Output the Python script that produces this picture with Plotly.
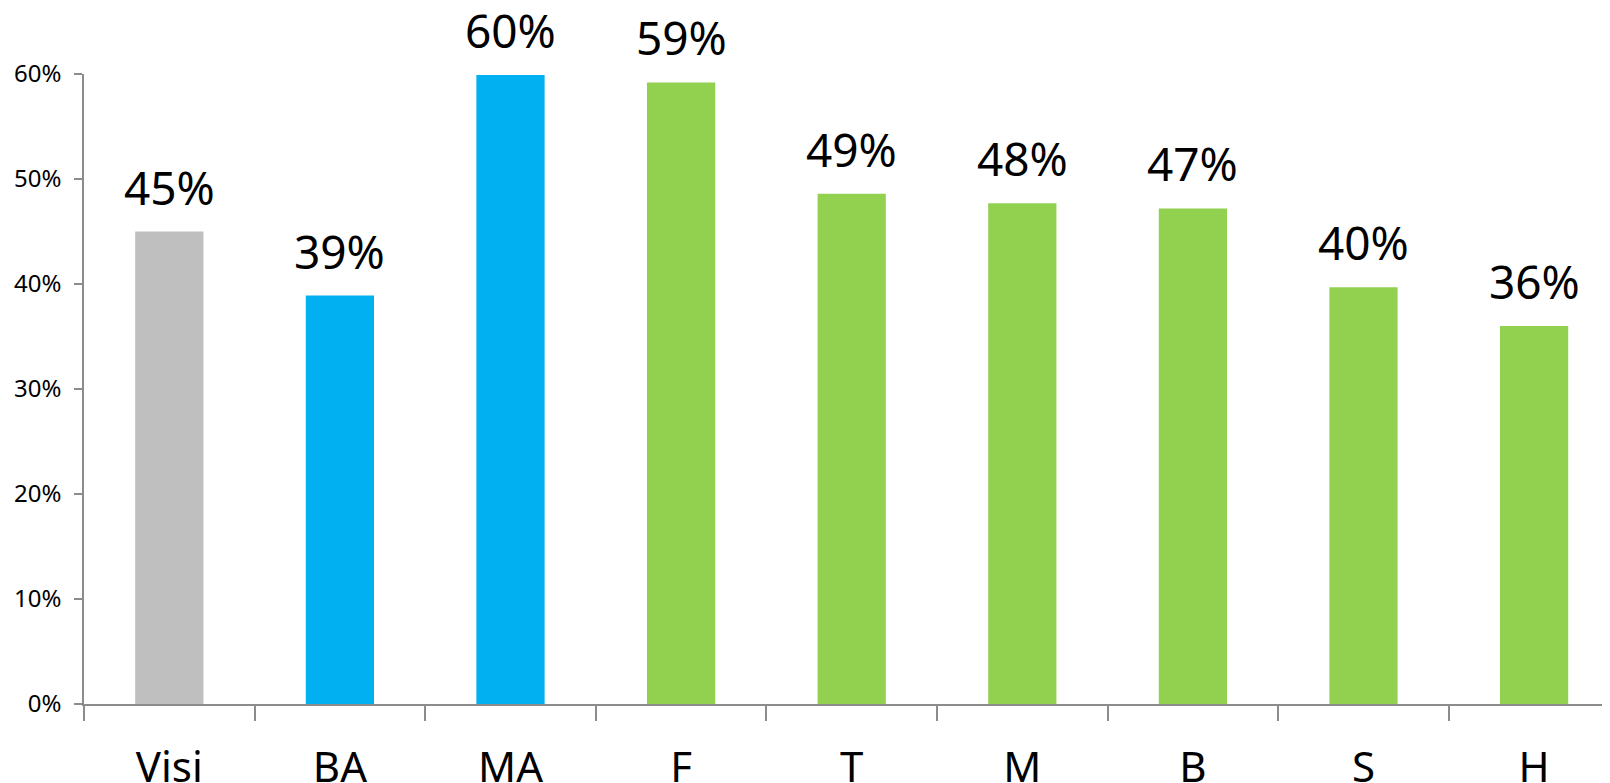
import plotly.graph_objects as go

categories = ["Visi", "BA", "MA", "F", "T", "M", "B", "S", "H"]
values = [0.450, 0.389, 0.599, 0.592, 0.486, 0.477, 0.472, 0.397, 0.360]
bar_colors = ["#BFBFBF", "#00B0F0", "#00B0F0", "#92D050", "#92D050",
              "#92D050", "#92D050", "#92D050", "#92D050"]
y_tickvals = [0, 0.1, 0.2, 0.3, 0.4, 0.5, 0.6]
y_ticktext = ["0%", "10%", "20%", "30%", "40%", "50%", "60%"]

FONT = "Noto Sans"
AXIS_COLOR = "#8C8C8C"

fig = go.Figure(
    go.Bar(
        x=categories,
        y=values,
        marker=dict(color=bar_colors, line=dict(width=0)),
        width=0.40,
        hoverinfo="skip",
    )
)

for cat, val in zip(categories, values):
    fig.add_annotation(
        x=cat,
        y=val,
        text=f"{val:.0%}",
        showarrow=False,
        xanchor="center",
        yanchor="bottom",
        yshift=12,
        font=dict(family=FONT, size=46, color="#000000"),
    )

# the page body has an 8px default margin, compensate for it
fig.update_layout(
    width=1610,
    height=783,
    margin=dict(l=76, r=8, t=66, b=87, autoexpand=False),
    paper_bgcolor="white",
    plot_bgcolor="white",
    showlegend=False,
    font=dict(family=FONT, color="#000000"),
)

fig.update_xaxes(
    type="category",
    range=[-0.5, -0.5 + (1610 - 84) / 170.6],
    automargin=False,
    showgrid=False,
    showline=True,
    linecolor=AXIS_COLOR,
    linewidth=1.5,
    ticks="outside",
    tickson="boundaries",
    ticklen=15,
    tickwidth=1.5,
    tickcolor=AXIS_COLOR,
    tickfont=dict(family=FONT, size=42, color="#000000"),
    ticklabelstandoff=26,
    zeroline=False,
)

fig.update_yaxes(
    range=[0, 0.6],
    automargin=False,
    tickvals=y_tickvals,
    ticktext=y_ticktext,
    showgrid=False,
    showline=True,
    linecolor=AXIS_COLOR,
    linewidth=1.5,
    ticks="outside",
    ticklen=8,
    tickwidth=1.5,
    tickcolor=AXIS_COLOR,
    tickfont=dict(family=FONT, size=24, color="#000000"),
    ticklabelstandoff=8,
    zeroline=False,
)

fig.write_html("out.html")
